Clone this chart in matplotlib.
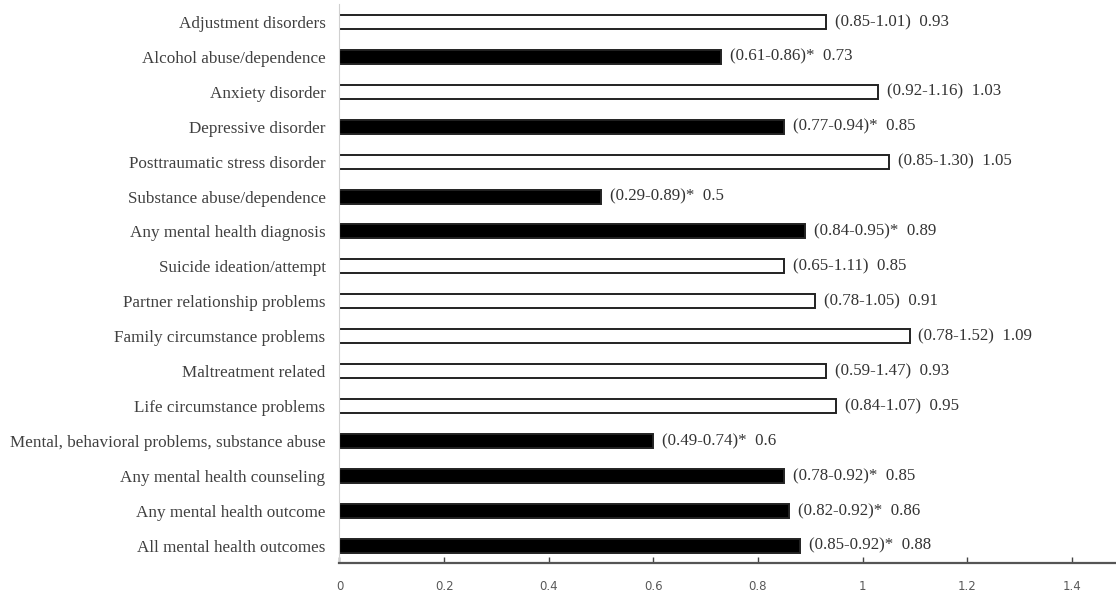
import matplotlib.pyplot as plt

labels = [
    "Adjustment disorders",
    "Alcohol abuse/dependence",
    "Anxiety disorder",
    "Depressive disorder",
    "Posttraumatic stress disorder",
    "Substance abuse/dependence",
    "Any mental health diagnosis",
    "Suicide ideation/attempt",
    "Partner relationship problems",
    "Family circumstance problems",
    "Maltreatment related",
    "Life circumstance problems",
    "Mental, behavioral problems, substance abuse",
    "Any mental health counseling",
    "Any mental health outcome",
    "All mental health outcomes",
]
values = [0.93, 0.73, 1.03, 0.85, 1.05, 0.5, 0.89, 0.85, 0.91, 1.09, 0.93, 0.95, 0.6, 0.85, 0.86, 0.88]
ci_low = [0.85, 0.61, 0.92, 0.77, 0.85, 0.29, 0.84, 0.65, 0.78, 0.78, 0.59, 0.84, 0.49, 0.78, 0.82, 0.85]
ci_high = [1.01, 0.86, 1.16, 0.94, 1.30, 0.89, 0.95, 1.11, 1.05, 1.52, 1.47, 1.07, 0.74, 0.92, 0.92, 0.92]
significant = [False, True, False, True, False, True, True, False, False, False, False, False, True, True, True, True]
xticks = [0, 0.2, 0.4, 0.6, 0.8, 1, 1.2, 1.4]

fig = plt.figure(figsize=(11.16, 5.92), dpi=100)
# axis runs a little past the right edge (cropped like the original)
ax = fig.add_axes([0.3042, 0.0485, 0.703, 0.944])

ypos = list(range(len(labels)))
colors = ['black' if s else 'white' for s in significant]
ax.barh(ypos, values, height=0.4, color=colors, edgecolor='#222222', linewidth=1.4)

for y, v, lo, hi, s in zip(ypos, values, ci_low, ci_high, significant):
    star = "*" if s else ""
    txt = f"({lo:.2f}-{hi:.2f}){star}  {v:g}"
    ax.text(v + 0.017, y, txt, va='center', ha='left', fontsize=12.2,
            family='Liberation Serif', color='#333333')

ax.set_ylim(15.5, -0.5)
ax.set_xlim(0, 1.5)
ax.set_yticks(ypos)
ax.set_yticklabels(labels, family='Liberation Serif', fontsize=12.3, color='#404040')
ax.set_xticks(xticks)
ax.set_xticklabels([f"{t:g}" for t in xticks], fontsize=8.5, color='#595959')
ax.tick_params(axis='y', length=0, pad=10)
ax.tick_params(axis='x', direction='in', length=4, width=1, pad=12, color='#444444')

ax.spines['top'].set_visible(False)
ax.spines['right'].set_visible(False)
ax.spines['left'].set_color('#d0d0d0')
ax.spines['bottom'].set_color('#555555')
ax.spines['bottom'].set_linewidth(1.6)

fig.savefig("out.png", dpi=100)
